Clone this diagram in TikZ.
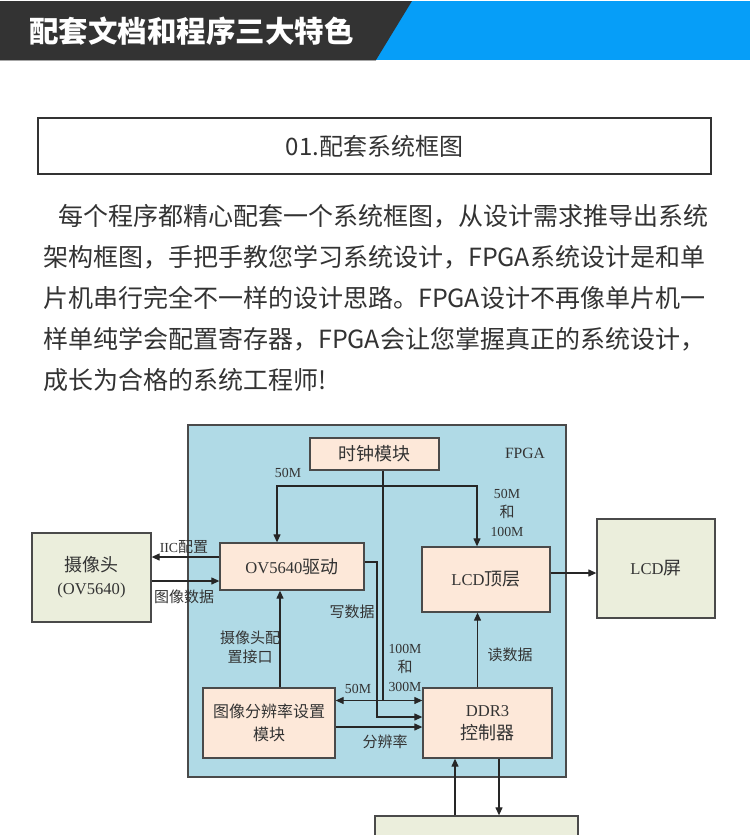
\documentclass[tikz,border=0pt]{standalone}
\usepackage{fontspec}
\setmainfont{Liberation Serif}[Scale=0.92]
\newfontfamily\cjk{Noto Sans CJK SC}
\usetikzlibrary{positioning,arrows.meta}
\definecolor{bannerblue}{HTML}{069EF8}
\definecolor{bannerdark}{HTML}{333333}
\definecolor{fpgablue}{HTML}{B0DAE6}
\definecolor{peach}{HTML}{FDE8D9}
\definecolor{olive}{HTML}{EBEEDC}
\definecolor{edgegray}{HTML}{4A4A4A}
\definecolor{ink}{HTML}{333333}
\newcommand{\latn}[1]{{\rmfamily #1}}

\begin{document}
\begin{tikzpicture}[
			x=1pt, y=-1pt,
			blk/.style={
				rectangle,
				draw=edgegray,
				line width=1.3pt,
				fill=peach,
				align=center,
				inner sep=0pt,
				text=ink,
				font=\cjk\fontsize{18}{23}\selectfont
			},
			ext/.style={
				blk,
				fill=olive
			},
			lbl/.style={
				align=center,
				inner sep=0pt,
				text=ink,
				font=\cjk\fontsize{15}{19}\selectfont
			},
			para/.style={
				anchor=west,
				inner sep=0pt,
				text=ink,
				font=\cjk\fontsize{25}{30}\selectfont
			},
			wire/.style={
				line width=1.2pt,
				draw=black!85,
				>={Triangle[length=8pt,width=7pt]}
			}
			]
			\useasboundingbox[fill=white] (0,0) rectangle (750,835);

			% banner
			\fill[bannerblue] (0,1) rectangle (750,60);
			\fill[bannerdark] (0,1) -- (412,1) -- (376,60) -- (0,60) -- cycle;
			\draw[gray!70, line width=1pt] (0,60.5) -- (376,60.5);
			\node[anchor=west, inner sep=0pt, text=white, font=\cjk\bfseries\fontsize{29.5}{29.5}\selectfont] (title) at (29,31) {配套文档和程序三大特色};

			\node[draw=ink, line width=2.5pt, minimum width=673pt, minimum height=56pt, text=ink, font=\cjk\fontsize{24}{24}\selectfont] (head) at (374.5,146) {01.配套系统框图};

			\node[para] (p1) at (58,216) {每个程序都精心配套一个系统框图，从设计需求推导出系统};
			\node[para] (p2) at (43,257) {架构框图，手把手教您学习系统设计，FPGA系统设计是和单};
			\node[para] (p3) at (43,298) {片机串行完全不一样的设计思路。FPGA设计不再像单片机一};
			\node[para] (p4) at (43,339) {样单纯学会配置寄存器，FPGA会让您掌握真正的系统设计，};
			\node[para] (p5) at (43,380) {成长为合格的系统工程师!};

			% block diagram
			\node[draw=edgegray, line width=1.3pt, fill=fpgablue, minimum width=378pt, minimum height=352pt] (fpga) at (377,601) {};
			\node[lbl, font=\rmfamily\fontsize{17}{20}\selectfont] (fpgalbl) at (525,453) {FPGA};

			\node[blk, minimum width=129pt, minimum height=32pt] (clk) at (374.5,454) {时钟模块};
			\node[blk, minimum width=144pt, minimum height=47pt] (ov) at (292,566.5) {\latn{OV5640}驱动};
			\node[blk, minimum width=128pt, minimum height=65pt] (lcd) at (486,579.5) {\latn{LCD}顶层};
			\node[blk, minimum width=132pt, minimum height=70pt, font=\cjk\fontsize{16}{23}\selectfont] (res) at (269,723) {图像分辨率设置\\模块};
			\node[blk, minimum width=129pt, minimum height=70pt] (ddr) at (487.5,723) {\latn{DDR3}\\控制器};
			\node[ext, minimum width=119pt, minimum height=89pt] (cam) at (91.5,577.5) {摄像头\\\latn{(OV5640)}};
			\node[ext, minimum width=118pt, minimum height=99pt] (scr) at (656,568.5) {\latn{LCD}屏};
			\node[ext, minimum width=203pt, minimum height=40pt] (mem) at (476.5,836) {};

			\coordinate (bus) at (383,486);
			\coordinate (tap) at (383,700.5);
			\coordinate (wr) at (377,717);
			\coordinate (ovclk) at ([xshift=-15pt]ov.north);
			\coordinate (lcdclk) at ([xshift=-9pt]lcd.north);
			\coordinate (cfg) at ([xshift=11pt]res.north);
			\coordinate (rd) at ([xshift=-10pt]ddr.north);
			\coordinate (lcdout) at ([yshift=6.5pt]lcd.east);
			\coordinate (iic) at ([yshift=9.5pt]ov.west);
			\coordinate (pix) at ([yshift=-3.5pt]cam.east);
			\coordinate (memup) at ([xshift=-21.5pt]mem.north);
			\coordinate (memdn) at ([xshift=11.5pt]ddr.south);

			\draw[wire] (clk.south -| bus) -- (tap);
			\draw[wire,->] (bus) -| (ovclk);
			\draw[wire,->] (bus) -| (lcdclk);
			\draw[wire,<->] (res.east |- tap) -- (ddr.west |- tap);
			\draw[wire,->] ([yshift=4.5pt]ov.east) -| (wr) -- (ddr.west |- wr);
			\draw[wire,->] ([yshift=-4pt]res.east) -- ([yshift=-4pt]ddr.west);
			\draw[wire,->] (cfg) -- (cfg |- ov.south);
			\draw[wire,->] (rd) -- (rd |- lcd.south);
			\draw[wire,->] (lcdout) -- (lcdout -| scr.west);
			\draw[wire,->] (iic) -- (iic -| cam.east);
			\draw[wire,->] (pix) -- (pix -| ov.west);
			\draw[wire,->] (memup) -- (memup |- ddr.south);
			\draw[wire,->] (memdn) -- (memdn |- mem.north);

			\node[lbl] (l50a) at (288,473) {\latn{50M}};
			\node[lbl] (l50b) at (507,513) {\latn{50M}\\和\\\latn{100M}};
			\node[lbl] (liic) at (184,547) {\latn{IIC}配置};
			\node[lbl] (limg) at (184,597) {图像数据};
			\node[lbl] (lwr) at (352,612) {写数据};
			\node[lbl] (lcfg) at (250,647) {摄像头配\\置接口};
			\node[lbl] (lrd) at (510,655) {读数据};
			\node[lbl] (l50c) at (358,689) {\latn{50M}};
			\node[lbl] (lddr) at (405,668) {\latn{100M}\\和\\\latn{300M}};
			\node[lbl] (lres) at (385,742) {分辨率};
		\end{tikzpicture}
\end{document}
